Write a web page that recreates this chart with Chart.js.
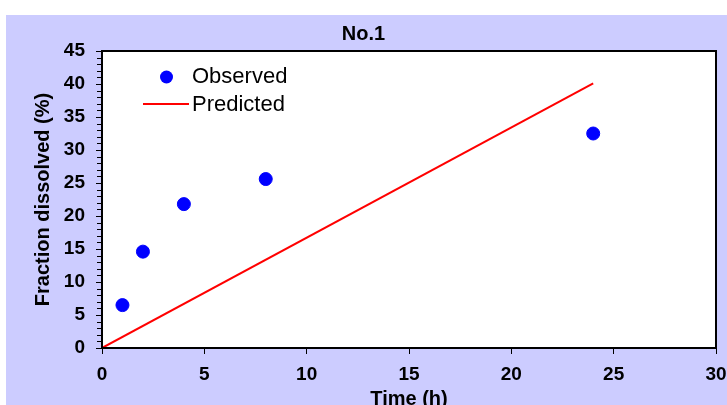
<!DOCTYPE html>
<html>
<head>
<meta charset="utf-8">
<script src="https://cdn.jsdelivr.net/npm/chart.js@4/dist/chart.umd.min.js"></script>
<style>
html,body{margin:0;padding:0;background:#fff;}
#wrap{width:727px;height:405px;}
</style>
</head>
<body>
<div id="wrap"><canvas id="c" width="727" height="405"></canvas></div>
<script>
const chartTitle = 'No.1';
const xTitle = 'Time (h)';
const yTitle = 'Fraction dissolved (%)';
const timeObserved = [1, 2, 4, 8, 24];
const observed = [6.5, 14.6, 21.8, 25.6, 32.5];
const timePredicted = [0, 24];
const predicted = [0, 40.1];

const FONT = '"Liberation Sans", Arial, sans-serif';

const bgPlugin = {
  id: 'bg',
  beforeDraw(chart) {
    const ctx = chart.ctx;
    ctx.save();
    ctx.fillStyle = '#ffffff';
    ctx.fillRect(0, 0, chart.width, chart.height);
    ctx.fillStyle = '#ccccff';
    ctx.fillRect(6, 15, chart.width - 6, chart.height - 15);
    const a = chart.chartArea;
    ctx.fillStyle = '#ffffff';
    ctx.fillRect(a.left, a.top, a.right - a.left, a.bottom - a.top);
    ctx.restore();
  },
  afterDraw(chart) {
    const ctx = chart.ctx;
    const a = chart.chartArea;
    const ys = chart.scales.y;
    ctx.save();
    ctx.strokeStyle = '#000';
    ctx.lineWidth = 2;
    ctx.strokeRect(a.left, a.top, a.right - a.left, a.bottom - a.top);
    // minor ticks on y axis
    ctx.lineWidth = 1;
    ctx.beginPath();
    for (let v = ys.min; v <= ys.max; v += 1) {
      const y = Math.round(ys.getPixelForValue(v)) + 0.5;
      ctx.moveTo(a.left - 5, y);
      ctx.lineTo(a.left, y);
    }
    ctx.stroke();
    // legend
    const ds = chart.data.datasets;
    ctx.font = '22px ' + FONT;
    ctx.textBaseline = 'middle';
    ctx.textAlign = 'left';
    // observed
    ctx.beginPath();
    ctx.fillStyle = ds[0].backgroundColor;
    ctx.arc(166.5, 77, 6.5, 0, Math.PI * 2);
    ctx.fill();
    ctx.fillStyle = '#000';
    ctx.fillText(ds[0].label, 192, 77);
    // predicted
    ctx.strokeStyle = ds[1].borderColor;
    ctx.lineWidth = 2;
    ctx.beginPath();
    ctx.moveTo(143, 104);
    ctx.lineTo(189, 104);
    ctx.stroke();
    ctx.fillText(ds[1].label, 192, 105);
    ctx.restore();
  }
};

new Chart(document.getElementById('c'), {
  type: 'scatter',
  data: {
    datasets: [
      {
        label: 'Observed',
        data: timeObserved.map((t, i) => ({x: t, y: observed[i]})),
        backgroundColor: '#0000ff',
        borderColor: '#0000ff',
        pointRadius: 6.5,
        pointHoverRadius: 6.5,
        showLine: false
      },
      {
        label: 'Predicted',
        data: timePredicted.map((t, i) => ({x: t, y: predicted[i]})),
        borderColor: '#ff0000',
        backgroundColor: '#ff0000',
        borderWidth: 2,
        pointRadius: 0,
        showLine: true
      }
    ]
  },
  plugins: [bgPlugin],
  options: {
    responsive: false,
    animation: false,
    events: [],
    layout: {padding: {left: 0, right: 0, top: 15, bottom: 0}},
    plugins: {
      legend: {display: false},
      tooltip: {enabled: false},
      title: {
        display: true,
        text: chartTitle,
        color: '#000',
        font: {family: FONT, size: 20, weight: 'bold', lineHeight: 1.2},
        padding: {top: 7.5, bottom: 4.5}
      }
    },
    scales: {
      x: {
        type: 'linear',
        min: 0, max: 30,
        ticks: {stepSize: 5, color: '#000', font: {family: FONT, size: 19, weight: 'bold'}, padding: 9, maxRotation: 0},
        grid: {drawOnChartArea: false, drawTicks: true, tickLength: 6, color: '#000', lineWidth: 1},
        border: {display: true, color: '#000', width: 2},
        title: {display: true, text: xTitle, color: '#000', font: {family: FONT, size: 20, weight: 'bold', lineHeight: 0.6}, padding: {top: 0, bottom: 0}},
        afterFit(s) { s.height = 57; s.paddingRight = 11; }
      },
      y: {
        type: 'linear',
        min: 0, max: 45,
        ticks: {stepSize: 5, color: '#000', font: {family: FONT, size: 19, weight: 'bold'}, padding: 11},
        grid: {drawOnChartArea: false, drawTicks: true, tickLength: 6, color: '#000', lineWidth: 1},
        border: {display: true, color: '#000', width: 2},
        title: {display: true, text: yTitle, color: '#000', font: {family: FONT, size: 20, weight: 'bold', lineHeight: 1}, padding: {top: 33.5, bottom: 0}},
        afterFit(s) { s.width = 102; }
      }
    }
  }
});
</script>
</body>
</html>
